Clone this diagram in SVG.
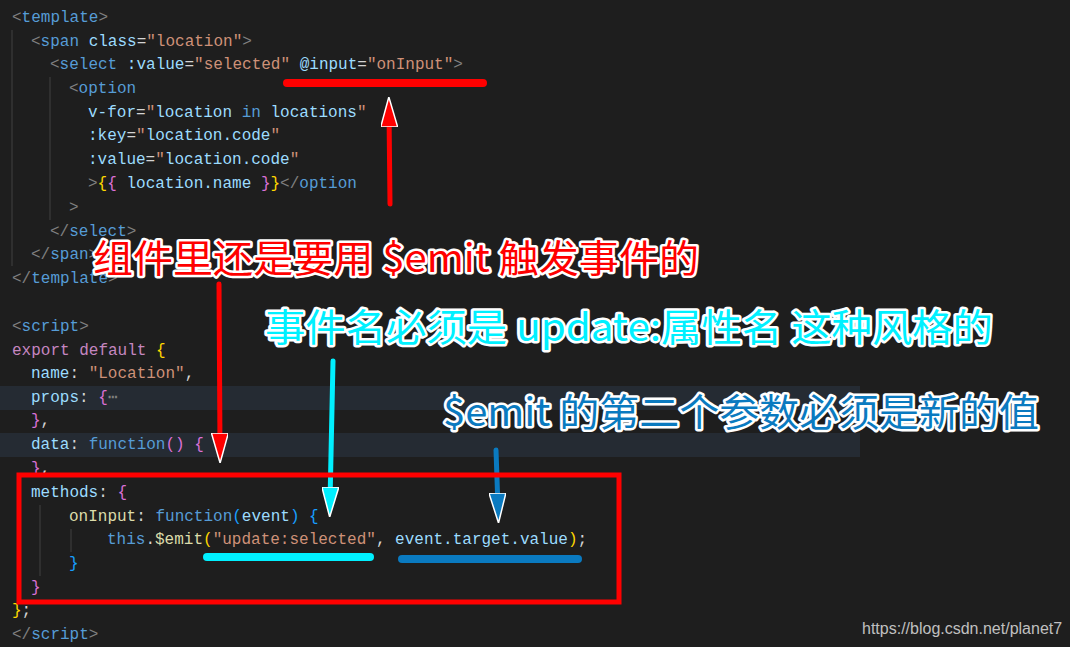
<svg xmlns="http://www.w3.org/2000/svg" width="1070" height="647" viewBox="0 0 1070 647">
<style>
.c{font-family:"Liberation Mono","DejaVu Sans Mono",monospace;font-size:16px;white-space:pre}
.g{fill:#808080}.t{fill:#569cd6}.a{fill:#9cdcfe}.s{fill:#ce9178}.k{fill:#c586c0}.f{fill:#dcdcaa}.w{fill:#d4d4d4}
.y{fill:#ffd700}.p{fill:#da70d6}.b{fill:#179fff}
.n{font-family:"Noto Sans CJK SC","Noto Sans",sans-serif;font-size:38px;stroke:#fff;stroke-width:5px;paint-order:stroke;stroke-linejoin:round}
</style>
<defs>
<marker id="hr" markerWidth="6" markerHeight="3.4" refX="3" refY="1.7" orient="auto" markerUnits="strokeWidth"><path d="M0,0L6,1.7L0,3.4z" fill="#f00" stroke="#fff" stroke-width="0.3"/></marker>
<marker id="hc" markerWidth="6" markerHeight="3.4" refX="3" refY="1.7" orient="auto" markerUnits="strokeWidth"><path d="M0,0L6,1.7L0,3.4z" fill="#00f0ff" stroke="#fff" stroke-width="0.3"/></marker>
<marker id="hb" markerWidth="6" markerHeight="3.4" refX="3" refY="1.7" orient="auto" markerUnits="strokeWidth"><path d="M0,0L6,1.7L0,3.4z" fill="#0a7ac0" stroke="#fff" stroke-width="0.3"/></marker>
</defs>
<rect width="1070" height="647" fill="#1e1e1e"/>
<rect x="0" y="386" width="860" height="24" fill="#252b33"/>
<rect x="0" y="433" width="860" height="24" fill="#252b33"/>
<g stroke="#404040" stroke-width="1">
<line x1="12" y1="30" x2="12" y2="266"/><line x1="50" y1="77" x2="50" y2="220"/>
<line x1="40" y1="505" x2="40" y2="576"/><line x1="71" y1="529" x2="71" y2="552"/>
</g>
<g id="code" class="c">
<text x="12" y="22"><tspan class="g">&lt;</tspan><tspan class="t">template</tspan><tspan class="g">&gt;</tspan></text>
<text x="31" y="46"><tspan class="g">&lt;</tspan><tspan class="t">span</tspan> <tspan class="a">class</tspan><tspan class="w">=</tspan><tspan class="s">"location"</tspan><tspan class="g">&gt;</tspan></text>
<text x="50" y="69"><tspan class="g">&lt;</tspan><tspan class="t">select</tspan> <tspan class="a">:value</tspan><tspan class="w">=</tspan><tspan class="s">"selected"</tspan> <tspan class="a">@input</tspan><tspan class="w">=</tspan><tspan class="s">"onInput"</tspan><tspan class="g">&gt;</tspan></text>
<text x="69" y="93"><tspan class="g">&lt;</tspan><tspan class="t">option</tspan></text>
<text x="88" y="117"><tspan class="a">v-for</tspan><tspan class="w">=</tspan><tspan class="s">"</tspan><tspan class="a">location</tspan> <tspan class="t">in</tspan> <tspan class="a">locations</tspan><tspan class="s">"</tspan></text>
<text x="88" y="140"><tspan class="a">:key</tspan><tspan class="w">=</tspan><tspan class="s">"</tspan><tspan class="a">location.code</tspan><tspan class="s">"</tspan></text>
<text x="88" y="164"><tspan class="a">:value</tspan><tspan class="w">=</tspan><tspan class="s">"</tspan><tspan class="a">location.code</tspan><tspan class="s">"</tspan></text>
<text x="88" y="188"><tspan class="g">&gt;</tspan><tspan class="y">{</tspan><tspan class="p">{</tspan> <tspan class="a">location.name</tspan> <tspan class="p">}</tspan><tspan class="y">}</tspan><tspan class="g">&lt;/</tspan><tspan class="t">option</tspan></text>
<text x="69" y="212" class="g">&gt;</text>
<text x="50" y="236"><tspan class="g">&lt;/</tspan><tspan class="t">select</tspan><tspan class="g">&gt;</tspan></text>
<text x="31" y="259"><tspan class="g">&lt;/</tspan><tspan class="t">span</tspan><tspan class="g">&gt;</tspan></text>
<text x="12" y="283"><tspan class="g">&lt;/</tspan><tspan class="t">template</tspan><tspan class="g">&gt;</tspan></text>
<text x="12" y="331"><tspan class="g">&lt;</tspan><tspan class="t">script</tspan><tspan class="g">&gt;</tspan></text>
<text x="12" y="355"><tspan class="k">export default</tspan> <tspan class="y">{</tspan></text>
<text x="31" y="378"><tspan class="a">name</tspan><tspan class="w">:</tspan> <tspan class="s">"Location"</tspan><tspan class="w">,</tspan></text>
<text x="31" y="402"><tspan class="a">props</tspan><tspan class="w">:</tspan> <tspan class="p">{</tspan><tspan class="g">⋯</tspan></text>
<text x="31" y="425"><tspan class="p">}</tspan><tspan class="w">,</tspan></text>
<text x="31" y="449"><tspan class="a">data</tspan><tspan class="w">:</tspan> <tspan class="t">function</tspan><tspan class="p">()</tspan> <tspan class="p">{</tspan></text>
<text x="31" y="473"><tspan class="p">}</tspan><tspan class="w">,</tspan></text>
<text x="31" y="497"><tspan class="a">methods</tspan><tspan class="w">:</tspan> <tspan class="p">{</tspan></text>
<text x="69" y="521"><tspan class="f">onInput</tspan><tspan class="w">:</tspan> <tspan class="t">function</tspan><tspan class="b">(</tspan><tspan class="a">event</tspan><tspan class="b">)</tspan> <tspan class="b">{</tspan></text>
<text x="107" y="544"><tspan class="t">this</tspan><tspan class="w">.</tspan><tspan class="f">$emit</tspan><tspan class="y">(</tspan><tspan class="s">"update:selected"</tspan><tspan class="w">,</tspan> <tspan class="a">event.target.value</tspan><tspan class="y">)</tspan><tspan class="w">;</tspan></text>
<text x="69" y="568" class="b">}</text>
<text x="31" y="592" class="p">}</text>
<text x="12" y="615"><tspan class="y">}</tspan><tspan class="w">;</tspan></text>
<text x="12" y="639"><tspan class="g">&lt;/</tspan><tspan class="t">script</tspan><tspan class="g">&gt;</tspan></text>
</g>
<g id="connectors" fill="none" stroke-linecap="round">
<line x1="287" y1="83" x2="483" y2="83" stroke="#f00" stroke-width="8"/>
<line x1="207" y1="557" x2="370" y2="557" stroke="#00f0ff" stroke-width="8"/>
<line x1="402" y1="559" x2="578" y2="559" stroke="#0a7ac0" stroke-width="8"/>
<line x1="390" y1="204" x2="389" y2="112" stroke="#f00" stroke-width="5" marker-end="url(#hr)"/>
<line x1="219" y1="284" x2="220" y2="448" stroke="#f00" stroke-width="5" marker-end="url(#hr)"/>
<line x1="333" y1="361" x2="330" y2="502" stroke="#00f0ff" stroke-width="5" marker-end="url(#hc)"/>
<line x1="496" y1="450" x2="498" y2="508" stroke="#0a7ac0" stroke-width="5" marker-end="url(#hb)"/>
<rect x="19" y="475" width="600" height="127" stroke="#f00" stroke-width="5"/>
</g>
<g id="labels">
<text class="n" x="93" y="272" fill="#f00" textLength="606" lengthAdjust="spacingAndGlyphs">组件里还是要用 $emit 触发事件的</text>
<text class="n" x="265" y="341" fill="#00f0ff" textLength="728" lengthAdjust="spacingAndGlyphs">事件名必须是 update:属性名 这种风格的</text>
<text class="n" x="443" y="426" fill="#0a7ac0" textLength="596" lengthAdjust="spacingAndGlyphs">$emit 的第二个参数必须是新的值</text>
<text x="862" y="634" font-family="Liberation Sans,sans-serif" font-size="16" fill="#c0c0c0">https://blog.csdn.net/planet7</text>
</g>
</svg>
